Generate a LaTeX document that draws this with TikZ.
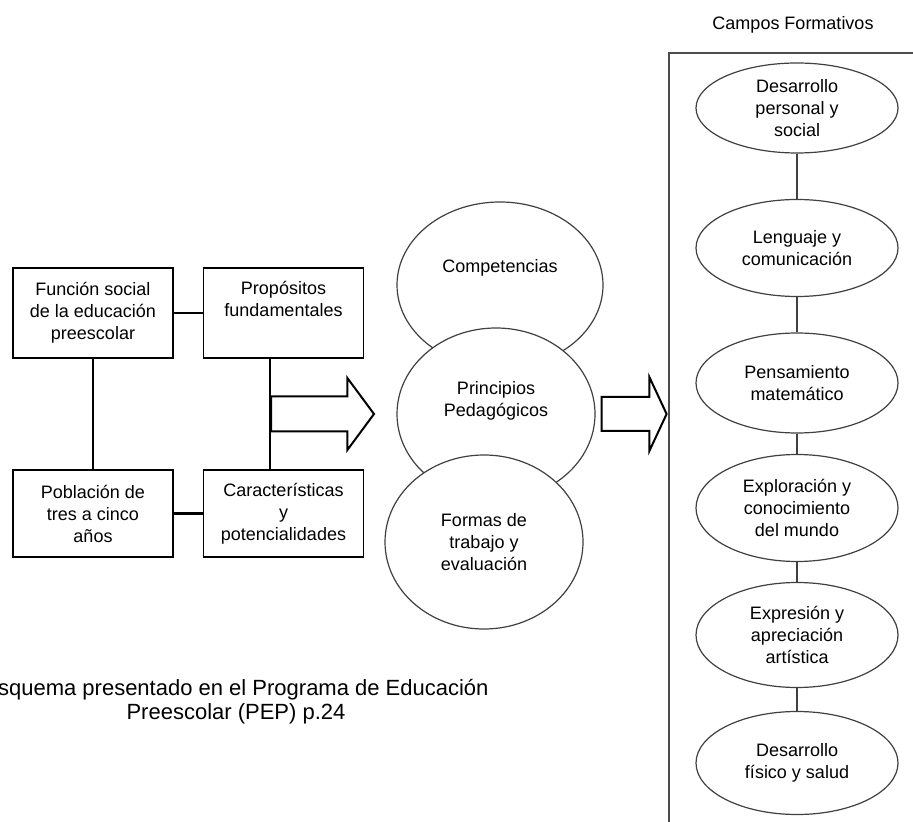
\documentclass[tikz,border=0pt]{standalone}
\usepackage{fontspec}
\setmainfont{Liberation Sans}
\usetikzlibrary{positioning, shapes, calc}

\begin{document}
\begin{tikzpicture}[
            x=0.5pt, y=-0.5pt,
            caja/.style={rectangle, draw, line width=0.8pt, minimum width=80pt, minimum height=44pt, inner sep=0pt, align=center, font=\fontsize{9}{11}\selectfont},
            ovalo/.style={ellipse, draw=black!75, line width=0.6pt, fill=white, inner sep=0pt, align=center, font=\fontsize{9}{11}\selectfont},
            campo/.style={ovalo, minimum width=101pt},
            union/.style={line width=1.4pt},
            flecha/.style={single arrow, draw, line width=1pt, fill=white, inner xsep=0pt, anchor=tail},
        ]
            \clip (0,0) rectangle (913,822);

            % recuadro de los campos formativos
            \draw[draw=black!70, line width=0.8pt] (669,53) rectangle (1000,900);
            \node[font=\fontsize{9}{11}\selectfont] (titulo) at (793,25) {Campos Formativos};

            % cajas de la izquierda
            \node[caja, minimum height=45pt] (funcion) at (93,313) {Función social\\de la educación\\preescolar};
            \node[caja, minimum height=45pt] (proposito) at (283.5,313) {Propósitos\\fundamentales\\\strut};
            \node[caja, minimum height=43.5pt] (poblacion) at (93,513.5) {Población de\\tres a cinco\\años};
            \node[caja, minimum height=43.5pt] (caracter) at (283.5,513.5) {Características\\y\\potencialidades};

            \draw[union] (funcion) -- (proposito);
            \draw[union] (poblacion) -- (caracter);
            \draw[union] (funcion) -- (poblacion);
            \draw[union] ([xshift=-6.75pt]proposito.south) -- ([xshift=-6.75pt]caracter.north);

            % elipses del centro
            \node[ovalo, minimum width=103pt, minimum height=83pt] (competencias) at (500,285) {};
            \node (competencias-t) at ([yshift=8.5pt]competencias.center) {\fontsize{9}{11}\selectfont Competencias};
            \node[ovalo, minimum width=99pt, minimum height=86pt] (principios) at (496,414) {};
            \node[align=center, font=\fontsize{9}{11}\selectfont] (principios-t) at ([yshift=6.5pt]principios.center) {Principios\\Pedagógicos};
            \node[ovalo, minimum width=99pt, minimum height=87pt] (formas) at (484,542) {Formas de\\trabajo y\\evaluación};

            % flechas
            \coordinate (cola1) at ([xshift=-6.75pt]$(proposito.south)!0.5!(caracter.north)$);
            \node[flecha, minimum height=51.5pt, inner ysep=8.25pt, single arrow head extend=9.25pt, single arrow tip angle=107] (flecha1) at (cola1) {};
            \node[flecha, minimum height=32.5pt, inner ysep=8pt, single arrow head extend=10pt, single arrow tip angle=130] (flecha2) at ([xshift=2.5pt]principios.east) {};

            % campos formativos
            \node[campo, minimum height=45pt] (personal) at (797,108) {Desarrollo\\personal y\\social};
            \node[campo, minimum height=48.5pt] (lenguaje) at (797,248) {Lenguaje y\\comunicación};
            \node[campo, minimum height=50pt] (pensamiento) at (797,383) {Pensamiento\\matemático};
            \node[campo, minimum height=53.5pt] (exploracion) at (797,508) {Exploración y\\conocimiento\\del mundo};
            \node[campo, minimum height=52.5pt] (expresion) at (797,635) {Expresión y\\apreciación\\artística};
            \node[campo, minimum height=51.5pt] (fisico) at (797,763) {Desarrollo\\físico y salud};

            \foreach \a/\b in {personal/lenguaje, lenguaje/pensamiento, pensamiento/exploracion, exploracion/expresion, expresion/fisico}
                \draw[line width=0.6pt, black!75] (\a) -- (\b);

            % fuente
            \node[align=center, font=\fontsize{11}{12}\selectfont] (fuente) at (236,702) {Esquema presentado en el Programa de Educación\\Preescolar (PEP) p.24};
        \end{tikzpicture}
\end{document}
